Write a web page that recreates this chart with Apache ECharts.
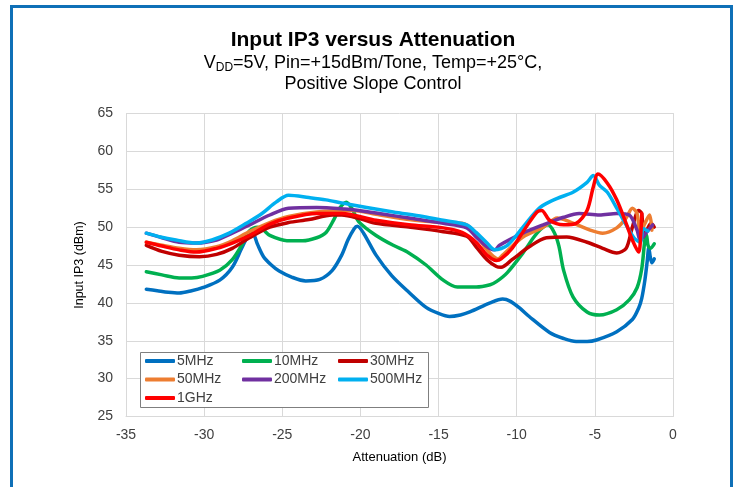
<!DOCTYPE html>
<html>
<head>
    <meta charset="utf-8">
    <title>Input IP3 versus Attenuation</title>
    <style>
    html, body { margin: 0; padding: 0; background: #fff; }
    </style>
    <script type="text/javascript" src="https://cdn.jsdelivr.net/npm/echarts@6/dist/echarts.min.js"></script>
</head>
<body>
    <div id="main" style="width:735px;height:487px"></div>
    <script>
    // series names / colours (legend order)
    var names = ['5MHz', '10MHz', '30MHz', '50MHz', '200MHz', '500MHz', '1GHz'];
    var colors = ['#0070C0', '#00B050', '#C00000', '#ED7D31', '#7030A0', '#00B0F0', '#FF0000'];

    var xTicks = [-35, -30, -25, -20, -15, -10, -5, 0];
    var yTicks = [25, 30, 35, 40, 45, 50, 55, 60, 65];

    // [attenuation dB, IIP3 dBm]
    var d5MHz = [[-33.7,41.8],[-33.0,41.6],[-32.3,41.4],[-31.6,41.3],[-30.8,41.6],[-30.1,42.0],[-29.0,43.0],[-28.2,44.7],
        [-27.6,47.2],[-27.2,48.8],[-26.9,49.2],[-26.6,47.8],[-26.2,46.1],[-25.7,45.0],[-25.2,44.2],[-24.4,43.4],
        [-23.5,42.9],[-22.6,43.1],[-21.8,44.3],[-21.2,46.3],[-20.8,48.3],[-20.4,49.8],[-20.2,50.1],[-19.8,49.2],
        [-19.0,46.3],[-18.0,43.6],[-16.9,41.4],[-15.8,39.4],[-15.0,38.6],[-14.3,38.2],[-13.6,38.4],[-13.0,38.8],
        [-11.7,40.0],[-10.9,40.5],[-10.4,40.2],[-9.8,39.3],[-9.2,38.2],[-7.9,36.1],[-7.0,35.3],[-6.2,34.9],
        [-5.5,34.9],[-4.9,35.1],[-3.6,36.2],[-2.6,37.8],[-2.2,39.3],[-2.0,40.6],[-1.8,43.0],[-1.65,45.5],
        [-1.55,47.3],[-1.45,46.0],[-1.35,45.3],[-1.2,45.8]];
    var d10MHz = [[-33.7,44.1],[-32.7,43.7],[-31.6,43.3],[-30.8,43.3],[-30.1,43.5],[-29.0,44.3],[-28.2,45.7],[-27.6,47.6],
        [-27.1,49.5],[-26.6,50.0],[-26.2,49.6],[-25.8,48.9],[-24.7,48.2],[-23.7,48.2],[-22.8,48.6],[-22.2,49.3],
        [-21.7,51.0],[-21.3,52.6],[-20.9,53.3],[-20.5,52.3],[-20.1,50.7],[-19.0,48.9],[-17.9,47.6],[-16.9,46.6],
        [-15.8,45.0],[-14.7,43.0],[-13.8,42.1],[-12.6,42.1],[-11.7,42.4],[-11.3,42.8],[-10.6,44.0],[-9.6,46.6],
        [-8.7,49.2],[-8.0,50.3],[-7.6,49.3],[-7.3,47.5],[-7.0,44.3],[-6.4,40.8],[-5.5,38.8],[-4.7,38.4],
        [-3.6,39.1],[-2.8,40.4],[-2.3,42.0],[-2.0,44.5],[-1.8,48.3],[-1.7,49.0],[-1.6,47.6],[-1.45,47.2],[-1.2,47.8]];
    var d30MHz = [[-33.7,47.6],[-32.7,46.8],[-31.6,46.3],[-30.3,46.1],[-29.2,46.4],[-28.2,47.2],[-27.1,48.6],[-25.8,50.0],
        [-24.6,50.6],[-23.3,51.0],[-21.8,51.6],[-21.2,51.6],[-20.0,51.1],[-19.0,50.5],[-16.9,50.0],[-14.7,49.4],
        [-13.2,48.8],[-12.6,47.4],[-11.9,45.7],[-11.3,44.8],[-11.0,44.7],[-10.3,45.7],[-9.2,47.4],[-8.1,48.6],
        [-6.8,48.7],[-5.5,48.0],[-4.5,47.2],[-3.6,46.6],[-3.0,47.2],[-2.6,50.0],[-2.2,52.2],[-2.0,51.8],
        [-1.9,48.7],[-1.7,49.5],[-1.4,50.5],[-1.2,50.0]];
    var d50MHz = [[-33.7,48.0],[-32.7,47.6],[-31.6,47.2],[-30.5,47.0],[-29.2,47.4],[-28.2,48.2],[-27.1,49.4],[-25.8,50.6],
        [-24.6,51.4],[-22.8,52.0],[-20.5,52.2],[-19.0,51.7],[-16.9,51.0],[-14.7,50.6],[-13.5,50.5],[-12.8,49.6],
        [-11.9,47.0],[-11.2,45.8],[-10.9,46.3],[-9.6,48.7],[-8.3,50.0],[-7.4,51.2],[-6.6,50.7],[-5.3,49.6],
        [-4.5,49.2],[-3.6,49.9],[-3.0,51.2],[-2.6,52.5],[-2.3,51.8],[-2.1,49.2],[-1.8,50.5],[-1.5,51.6],[-1.35,49.6]];
    var d200MHz = [[-33.7,49.2],[-32.7,48.6],[-31.6,48.0],[-30.5,47.9],[-29.2,48.3],[-28.2,49.2],[-27.1,50.3],[-25.8,51.6],
        [-24.6,52.5],[-22.8,52.6],[-21.0,52.4],[-20.1,52.2],[-18.5,51.7],[-16.9,51.2],[-14.7,50.5],[-13.2,49.9],
        [-12.6,48.7],[-11.9,47.4],[-11.4,47.0],[-11.1,47.6],[-9.6,49.2],[-8.3,50.3],[-7.0,51.3],[-6.0,51.8],
        [-4.7,51.6],[-3.6,51.8],[-2.8,51.6],[-2.3,49.6],[-2.1,48.3],[-1.7,49.3],[-1.3,50.3]];
    var d500MHz = [[-33.7,49.2],[-32.8,48.7],[-31.8,48.3],[-30.5,47.9],[-29.5,48.3],[-28.4,49.2],[-27.3,50.5],[-26.3,51.8],
        [-25.4,53.3],[-24.6,54.2],[-23.3,53.9],[-22.2,53.6],[-21.2,53.2],[-19.6,52.6],[-17.9,52.0],[-16.0,51.4],
        [-14.7,50.9],[-13.2,50.3],[-12.6,49.3],[-11.9,47.9],[-11.4,47.0],[-10.6,47.6],[-9.6,50.0],[-8.5,52.6],
        [-7.4,53.8],[-6.4,54.6],[-5.5,55.9],[-5.1,56.8],[-4.7,55.5],[-4.2,54.6],[-3.6,52.5],[-3.0,50.3],
        [-2.5,48.6],[-2.1,48.0],[-1.9,49.8],[-1.6,49.5]];
    var d1GHz = [[-33.7,48.0],[-32.7,47.5],[-31.6,47.0],[-30.5,46.7],[-29.2,47.2],[-28.2,47.9],[-27.1,48.9],[-25.8,50.4],
        [-24.6,51.2],[-22.8,51.8],[-21.2,51.8],[-19.0,50.9],[-16.9,50.3],[-14.7,49.9],[-13.5,49.3],[-12.6,48.0],
        [-11.9,46.3],[-11.3,45.6],[-11.0,45.8],[-10.3,47.2],[-9.4,50.0],[-8.7,52.0],[-8.4,52.2],[-7.9,50.9],
        [-7.0,50.3],[-6.2,50.5],[-5.5,52.2],[-5.1,55.3],[-4.8,57.0],[-4.2,55.8],[-3.6,53.6],[-3.0,50.5],
        [-2.6,48.3],[-2.2,46.7],[-2.05,49.5],[-2.0,51.8]];

    var allData = [d5MHz, d10MHz, d30MHz, d50MHz, d200MHz, d500MHz, d1GHz];

    var font = "'Liberation Sans', Arial, sans-serif";

    var series = [];
    for (var i = 0; i < names.length; i++) {
        series.push({
            name: names[i],
            type: 'line',
            data: allData[i],
            smooth: 0.3,
            showSymbol: false,
            color: colors[i],
            lineStyle: { width: 3.5, color: colors[i], cap: 'round', join: 'round' },
            animation: false
        });
    }

    function legendCol(items, left) {
        return {
            data: items,
            orient: 'vertical',
            left: left,
            top: 354,
            itemWidth: 30,
            itemHeight: 4,
            itemGap: 4.5,
            icon: 'roundRect',
            padding: 0,
            textStyle: { fontFamily: font, fontSize: 14, color: '#404040', padding: [0, 0, 0, -3] }
        };
    }

    option = {
        backgroundColor: '#fff',
        title: [{
            text: 'Input IP3 versus Attenuation',
            left: 373, top: 30, textAlign: 'center', padding: 0,
            textStyle: { fontFamily: font, fontSize: 21, fontWeight: 'bold', color: '#000' }
        }, {
            text: '{n|V}{s|DD}{n|=5V, Pin=+15dBm/Tone, Temp=+25°C,}',
            left: 373, top: 52, textAlign: 'center', padding: 0,
            textStyle: {
                fontWeight: 'normal',
                rich: {
                    n: { fontFamily: font, fontSize: 18, fontWeight: 'normal', color: '#000', lineHeight: 22 },
                    s: { fontFamily: font, fontSize: 12, fontWeight: 'normal', color: '#000', lineHeight: 10, verticalAlign: 'bottom' }
                }
            }
        }, {
            text: 'Positive Slope Control',
            left: 373, top: 75, textAlign: 'center', padding: 0,
            textStyle: { fontFamily: font, fontSize: 18, fontWeight: 'normal', color: '#000' }
        }],
        legend: [
            legendCol(['5MHz', '50MHz', '1GHz'], 145),
            legendCol(['10MHz', '200MHz'], 242),
            legendCol(['30MHz', '500MHz'], 338)
        ],
        grid: { left: 126, right: 62, top: 113.5, bottom: 70.5, containLabel: false },
        xAxis: {
            type: 'value',
            min: xTicks[0], max: xTicks[xTicks.length - 1], interval: 5,
            name: 'Attenuation (dB)', nameLocation: 'middle', nameGap: 34,
            nameTextStyle: { fontFamily: font, fontSize: 13, color: '#000' },
            axisLine: { show: true, lineStyle: { color: '#d9d9d9', width: 1 } },
            axisTick: { show: false },
            axisLabel: { fontFamily: font, fontSize: 14, color: '#404040', margin: 12 },
            splitLine: { show: true, lineStyle: { color: '#d9d9d9', width: 1 } }
        },
        yAxis: {
            type: 'value',
            min: yTicks[0], max: yTicks[yTicks.length - 1], interval: 5,
            name: 'Input IP3 (dBm)', nameLocation: 'middle', nameGap: 26,
            nameTextStyle: { fontFamily: font, fontSize: 12.5, color: '#000' },
            axisLine: { show: true, lineStyle: { color: '#d9d9d9', width: 1 } },
            axisTick: { show: false },
            axisLabel: { fontFamily: font, fontSize: 14, color: '#404040', margin: 13 },
            splitLine: { show: true, lineStyle: { color: '#d9d9d9', width: 1 } }
        },
        graphic: [{
            // legend box
            type: 'rect', z: 3,
            shape: { x: 140.5, y: 352.5, width: 288, height: 55 },
            style: { fill: '#fff', stroke: '#7f7f7f', lineWidth: 1 }
        }, {
            // blue frame around figure
            type: 'polyline', z: 10,
            shape: { points: [[11.5, 495], [11.5, 6.5], [731.5, 6.5], [731.5, 495]] },
            style: { fill: null, stroke: '#0F70B7', lineWidth: 3 }
        }],
        series: series
    };

    var myChart = echarts.init(document.getElementById('main'));
    myChart.setOption(option);
    </script>
</body>
</html>
